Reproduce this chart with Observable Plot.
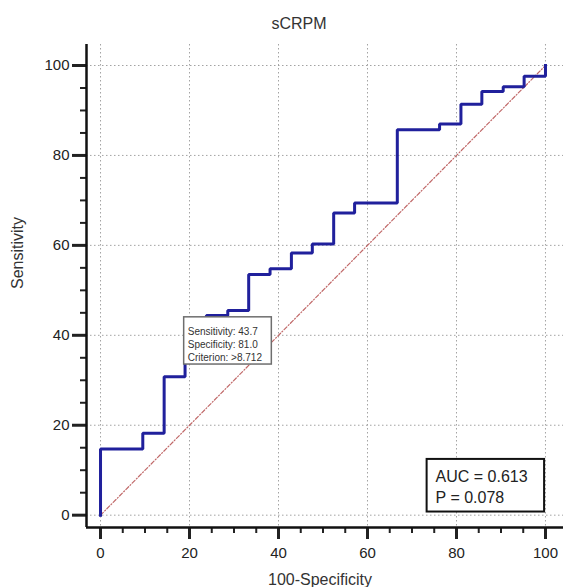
<!DOCTYPE html>
<html>
<head>
<meta charset="utf-8">
<script src="https://cdn.jsdelivr.net/npm/d3@7"></script>
<script src="https://cdn.jsdelivr.net/npm/@observablehq/plot@0.6"></script>
<style>
  html, body { margin: 0; padding: 0; background: #fff; }
</style>
</head>
<body>
<div id="chart"></div>
<script>
// ROC curve (step): 100-Specificity (x) and Sensitivity (y)
const rocX = [0, 0, 9.5, 9.5, 14.3, 14.3, 19.0, 19.0, 23.8, 23.8, 28.6, 28.6, 33.3, 33.3, 38.1, 38.1, 42.9, 42.9, 47.6, 47.6, 52.4, 52.4, 57.1, 57.1, 66.7, 66.7, 76.2, 76.2, 81.0, 81.0, 85.7, 85.7, 90.5, 90.5, 95.2, 95.2, 100, 100];
const rocY = [0, 14.7, 14.7, 18.2, 18.2, 30.8, 30.8, 43.0, 43.0, 44.4, 44.4, 45.5, 45.5, 53.5, 53.5, 54.8, 54.8, 58.3, 58.3, 60.3, 60.3, 67.2, 67.2, 69.4, 69.4, 85.7, 85.7, 87.0, 87.0, 91.4, 91.4, 94.2, 94.2, 95.3, 95.3, 97.6, 97.6, 100];
const diagX = [0, 100];
const diagY = [0, 100];

const xTicks = [0, 20, 40, 60, 80, 100];
const yTicks = [0, 20, 40, 60, 80, 100];
const xMinor = [5, 10, 15, 25, 30, 35, 45, 50, 55, 65, 70, 75, 85, 90, 95];
const yMinor = [5, 10, 15, 25, 30, 35, 45, 50, 55, 65, 70, 75, 85, 90, 95];

const titleText = "sCRPM";
const xLabel = "100-Specificity";
const yLabel = "Sensitivity";
const criterionLines = ["Sensitivity: 43.7", "Specificity: 81.0", "Criterion: >8.712"];
const aucLines = ["AUC = 0.613", "P = 0.078"];

const roc = rocX.map((x, i) => ({x, y: rocY[i]}));
const diag = diagX.map((x, i) => ({x, y: diagY[i]}));

const xDom = [-3.15, 104.05];
const yDom = [-2.74, 104.67];
const ink = "#222";

const chart = Plot.plot({
  width: 565,
  height: 587,
  marginTop: 44,
  marginBottom: 60,
  marginLeft: 86,
  marginRight: 2,
  style: {fontFamily: "'Liberation Sans', Arial, sans-serif", background: "#fff", color: ink},
  x: {domain: xDom},
  y: {domain: yDom},
  marks: [
    Plot.gridX(xTicks, {stroke: "#999", strokeOpacity: 0.9, strokeDasharray: "1.5,2.5", strokeWidth: 1}),
    Plot.gridY(yTicks, {stroke: "#999", strokeOpacity: 0.9, strokeDasharray: "1.5,2.5", strokeWidth: 1}),
    Plot.line(diag, {x: "x", y: "y", stroke: "#c06868", strokeWidth: 1.2, strokeDasharray: "4,2,1,2"}),
    Plot.line(roc, {x: "x", y: "y", stroke: "#20209c", strokeWidth: 3, strokeLinejoin: "miter", strokeLinecap: "square"}),
    // criterion label box
    Plot.rect([{}], {x1: 18.8, x2: 38.5, y1: 33.5, y2: 44.0, fill: "#fff", stroke: "#6e6e6e", strokeWidth: 1.5}),
    Plot.text([criterionLines.join("\n")], {x: 19.6, y: 44.0, dy: 8, text: d => d, textAnchor: "start", lineAnchor: "top", fontSize: 10, lineHeight: 1.3, fill: "#333"}),
    // AUC box
    Plot.rect([{}], {x1: 73.4, x2: 99.8, y1: 0.7, y2: 12.4, fill: "#fff", stroke: "#111", strokeWidth: 2}),
    Plot.text([aucLines.join("\n")], {x: 75.3, y: 12.4, dy: 7, text: d => d, textAnchor: "start", lineAnchor: "top", fontSize: 16, lineHeight: 1.35, fill: "#222"}),
    // axes
    Plot.axisY(yTicks, {tickSize: 14, tickPadding: 3, fontSize: 15, strokeWidth: 3, label: null, fill: ink}),
    Plot.axisY(yMinor, {tickSize: 6, tickFormat: () => "", strokeWidth: 2, label: null}),
    Plot.axisX(xTicks, {tickSize: 12, tickPadding: 8, fontSize: 15, strokeWidth: 3, label: null, fill: ink}),
    Plot.axisX(xMinor, {tickSize: 6, tickFormat: () => "", strokeWidth: 2, label: null}),
    Plot.ruleX([xDom[0]], {stroke: "#111", strokeWidth: 2.5}),
    Plot.ruleY([yDom[0]], {stroke: "#111", strokeWidth: 2.5}),
    // titles
    Plot.text([titleText], {frameAnchor: "top", dx: -26, dy: -16, lineAnchor: "bottom", fontSize: 16, fill: "#333"}),
    Plot.text([yLabel], {frameAnchor: "left", dx: -64, dy: 3, rotate: -90, lineAnchor: "bottom", fontSize: 16, fill: "#333"}),
    Plot.text([xLabel], {frameAnchor: "bottom", dx: -5, dy: 57, lineAnchor: "bottom", fontSize: 16, fill: "#333"})
  ]
});
document.getElementById("chart").appendChild(chart);
</script>
</body>
</html>
